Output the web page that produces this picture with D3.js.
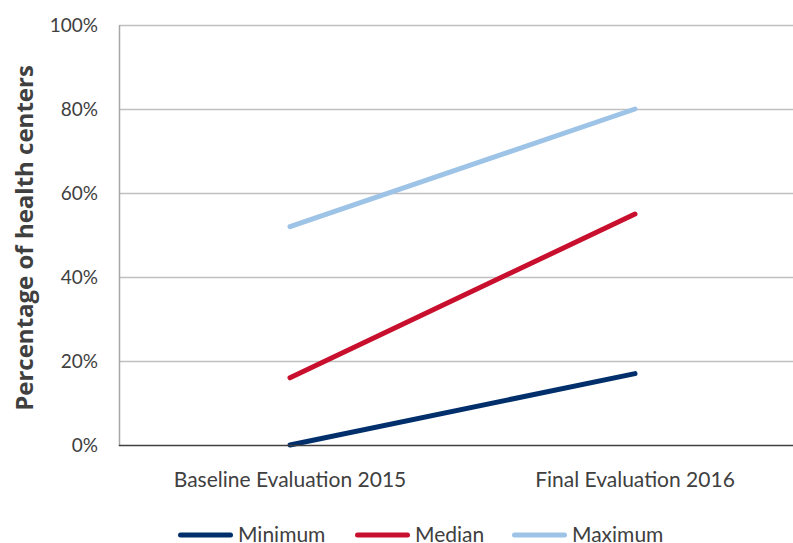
<!DOCTYPE html>
<html><head><meta charset="utf-8">
<script src="https://cdn.jsdelivr.net/npm/d3@7"></script>
<style>body{margin:0;background:#fff}svg{display:block}text{font-family:Lato,"Open Sans",sans-serif}</style>
</head><body><svg id="c" width="793" height="543"></svg>
<script>
const categories = ["Baseline Evaluation 2015", "Final Evaluation 2016"];
const seriesNames = ["Minimum", "Median", "Maximum"];
const minimumValues = [0, 17];
const medianValues = [16, 55];
const maximumValues = [52, 80];
const seriesColors = ["#002f6c", "#c8102e", "#9dc3e6"];
const yTicks = [0, 20, 40, 60, 80, 100];

const series = [minimumValues, medianValues, maximumValues];
const svg = d3.select("#c");
const x = d3.scalePoint().domain(categories).range([290, 635]);
const y = d3.scaleLinear().domain([0, 100]).range([445, 25]);
const left = 119.5, right = 793;

// gridlines
svg.append("g").selectAll("line").data(yTicks.filter(d => d > 0)).join("line")
  .attr("x1", left).attr("x2", right)
  .attr("y1", d => Math.round(y(d)) + 0.5).attr("y2", d => Math.round(y(d)) + 0.5)
  .attr("stroke", "#c0c0c0").attr("stroke-width", 1.5);
// y axis line
svg.append("line").attr("x1", left).attr("x2", left).attr("y1", y(100)).attr("y2", y(0))
  .attr("stroke", "#a6a6a6").attr("stroke-width", 1.5);
// y tick labels
svg.append("g").selectAll("text").data(yTicks).join("text")
  .attr("x", 98).attr("y", d => y(d)).attr("dy", "0.36em")
  .attr("text-anchor", "end").attr("font-size", 19).attr("fill", "#404040")
  .text(d => d + "%");
// y title
svg.append("text").attr("transform", "translate(33,238) rotate(-90)")
  .attr("text-anchor", "middle").attr("font-size", 24).attr("font-weight", "bold")
  .style("font-family", "'Open Sans', sans-serif")
  .attr("fill", "#404040").text("Percentage of health centers");
// x labels
svg.append("g").selectAll("text").data(categories).join("text")
  .attr("x", d => x(d)).attr("y", 487).attr("text-anchor", "middle")
  .attr("font-size", 21).attr("fill", "#404040").text(d => d);

// lines
const line = d3.line().x((d, i) => x(categories[i])).y(d => y(d));
svg.append("g").selectAll("path").data(series).join("path")
  .attr("d", d => line(d)).attr("fill", "none")
  .attr("stroke", (d, i) => seriesColors[i]).attr("stroke-width", 5)
  .attr("stroke-linecap", "round");

// baseline
svg.append("line").attr("x1", left - 0.75).attr("x2", right).attr("y1", 445.5).attr("y2", 445.5)
  .attr("stroke", "#404040").attr("stroke-width", 1.5);

// legend
const legX = [180.5, 357.5, 514.5];
const lg = svg.append("g").selectAll("g").data(seriesNames).join("g")
  .attr("transform", (d, i) => `translate(${legX[i]},535)`);
lg.append("line").attr("x1", 0).attr("x2", 50).attr("stroke", (d, i) => seriesColors[i])
  .attr("stroke-width", 5).attr("stroke-linecap", "round");
lg.append("text").attr("x", 57.5).attr("y", 7).attr("font-size", 21)
  .attr("fill", "#404040").text(d => d);
</script></body></html>
